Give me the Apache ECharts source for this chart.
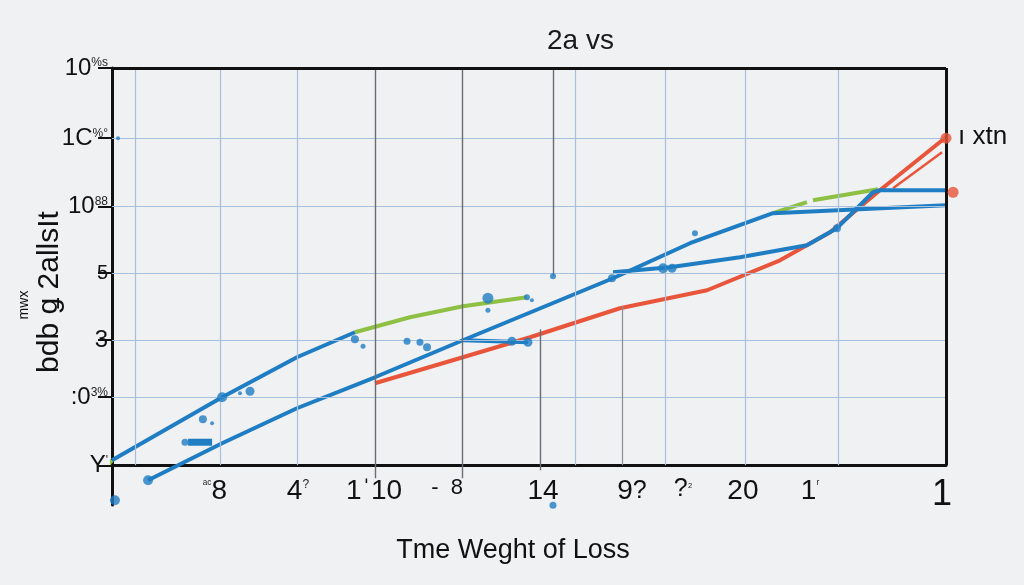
<!DOCTYPE html>
<html>
<head>
<meta charset="utf-8">
<script src="https://cdn.jsdelivr.net/npm/echarts@6/dist/echarts.min.js"></script>
<style>
html,body{margin:0;padding:0;background:#f0f1f3;}
#chart{width:1024px;height:585px;}
</style>
</head>
<body>
<div id="chart"></div>
<script>
// ---- Data ----
const titleText = '2a vs';
const xTitle = 'Tme Weght of Loss';
const sideLabel = 'ı xtn';
const yTitleMain = 'bdb ǥ 2allsIt';
const yTitleSmall = 'mwx';

const xLabelPos = [4.94, 8.92, 12.57, 16.07, 20.67, 24.94, 27.39, 30.26, 33.48, 39.81];
const xLabels = ['{s|ᵃᶜ}{a|8}', '{a|4}{s|?}', '{a|1ˈ10}', '{m|-  8}', '{a|14}', '{a|9}{b|?}', '{b|?}{s|₂}', '{a|20}', '{a|1}{s|ʳ}', '{c|1}'];

const yLabelPos = [0, 6.85, 12.59, 19.34, 26.08, 32.93, 40];
const yLabels = ['{a|Y}{s|\'}', '{a|:0}{s|3%}', '{a|3}', '{m|5}', '{a|10}{s|88}', '{a|1C}{s|%°}', '{a|10}{s|%s}'];

const hGrid = [6.85, 12.59, 19.34, 26.08, 32.93];
const vGridLight = [1.10, 5.18, 8.87, 22.21, 26.52, 30.36, 34.82];
const vGridDark = [12.61, 16.79];

const blueA = [[1.73,-1.51],[5.28,2.22],[8.87,5.74],[12.61,8.86],[16.83,12.59],[24.03,18.83],[27.72,22.36],[31.70,25.38],[40,26.18]];
const blueB = [[0,0.50],[5.28,6.85],[8.87,10.88],[11.65,13.39]];
const blueC = [[16.83,12.59],[19.95,12.39]];
const blueD = [[24.03,19.44],[26.76,19.94],[30.12,20.95],[33.33,22.16],[34.77,23.87],[36.50,27.49],[36.83,27.69],[40,27.69]];
const blueE = [[3.65,2.32],[4.80,2.32]];

const red1 = [[12.61,8.26],[16.83,10.88],[20.05,12.89],[24.36,15.81],[28.54,17.62],[32.04,20.64],[34.44,23.46],[36.83,27.69],[40,33.03]];
const red2 = [[37.46,27.90],[39.81,31.52]];
const redDots = [[40,32.93],[40.34,27.49]];

const green1 = [[-0.67,-1.01],[0,0.50]];
const green2 = [[11.65,13.39],[14.29,14.90],[16.83,16.01],[19.90,16.92]];
const green3 = [[31.70,25.38],[33.33,26.49]];
const green4 = [[33.62,26.69],[36.74,27.79]];

// [x, y, size]
const blueDots = [[0.29,32.93,4],[0.14,-3.52,10],[1.73,-1.51,10],[4.36,4.63,8],[4.80,4.23,4],[3.50,2.32,7],
  [5.28,6.85,10],[6.62,7.45,9],[6.14,7.25,4],[11.65,12.69,8],[12.04,11.98,5],[14.15,12.49,7],[14.77,12.39,7],
  [15.11,11.88,8],[18.03,16.82,11],[18.03,15.61,5],[19.90,16.92,6],[20.14,16.62,4],[21.15,19.03,6],
  [19.18,12.49,9],[19.95,12.39,9],[23.98,18.83,8],[26.43,19.84,10],[26.86,19.84,9],[27.96,23.36,6],
  [21.15,-4.03,7],[34.77,23.87,8]];

// ---- Chart ----
const BLUE = '#1f7dc3', RED = '#e8553a', GREEN = '#8ec043';
const FONT = 'Liberation Sans, Arial, sans-serif';
const chart = echarts.init(document.getElementById('chart'));

function nearestIdx(arr, v){let b=0;for(let i=1;i<arr.length;i++){if(Math.abs(arr[i]-v)<Math.abs(arr[b]-v))b=i;}return b;}

function lineSeries(data, color, width, z){
  return {type:'line', data:data, showSymbol:false, symbol:'none', clip:false, z:z||3,
    lineStyle:{color:color, width:width}, smooth:false, silent:true};
}

const LIGHT = {color:'#a7c0de', width:1.2};
const DARK = {color:'#6a6e74', width:1.4};
const gridLines = [];
hGrid.forEach(v=>gridLines.push({yAxis:v, lineStyle:LIGHT}));
vGridLight.forEach(v=>gridLines.push([{coord:[v,0], lineStyle:LIGHT},{coord:[v,40]}]));
vGridDark.forEach(v=>gridLines.push([{coord:[v,-1.3], lineStyle:DARK},{coord:[v,40]}]));
gridLines.push([{coord:[21.15,40], lineStyle:DARK},{coord:[21.15,19.03]}]);
gridLines.push([{coord:[20.53,13.69], lineStyle:DARK},{coord:[20.53,-0.5]}]);
gridLines.push([{coord:[24.46,16.01], lineStyle:{color:'#8a8e94', width:1.2}},{coord:[24.46,0]}]);
gridLines.push({yAxis:40, lineStyle:{color:'#111', width:3}});
gridLines.push([{coord:[40,0], lineStyle:{color:'#111', width:3}},{coord:[40,40]}]);

const option = {
  backgroundColor:'#f0f1f3',
  animation:false,
  textStyle:{fontFamily:FONT},
  grid:{left:112, right:78, top:68, bottom:80},
  xAxis:{type:'value', min:0, max:40, offset:-40,
    axisLine:{show:true, onZero:false, lineStyle:{color:'#111', width:3}},
    axisTick:{show:false}, splitLine:{show:false},
    axisLabel:{customValues:xLabelPos, margin:12, color:'#111',
      formatter:function(v){return xLabels[nearestIdx(xLabelPos, v)];},
      rich:{a:{fontSize:28, color:'#111', fontFamily:FONT},
            b:{fontSize:25, color:'#111', fontFamily:FONT},
            m:{fontSize:22, color:'#111', fontFamily:FONT},
            c:{fontSize:36, color:'#111', fontFamily:FONT},
            s:{fontSize:12, color:'#222', fontFamily:FONT, padding:[0,0,12,0]}}}},
  yAxis:{type:'value', min:-4, max:40,
    axisLine:{show:true, onZero:false, lineStyle:{color:'#111', width:3}},
    axisTick:{show:true, customValues:yLabelPos, length:14, lineStyle:{color:'#111', width:2}},
    splitLine:{show:false},
    axisLabel:{customValues:yLabelPos, margin:4, color:'#111',
      formatter:function(v){return yLabels[nearestIdx(yLabelPos, v)];},
      rich:{a:{fontSize:24, color:'#111', fontFamily:FONT},
            m:{fontSize:20, color:'#111', fontFamily:FONT},
            s:{fontSize:12, color:'#222', fontFamily:FONT, padding:[0,0,10,0]}}}},
  title:[
    {text:titleText, left:542, top:22, textStyle:{fontSize:28, fontWeight:'normal', color:'#1a1a1a', fontFamily:FONT}}
  ],
  graphic:[
    {type:'text', left:958, top:124, style:{text:sideLabel, fontSize:26, fill:'#111', fontFamily:FONT}},
    {type:'text', x:513, y:551, style:{text:xTitle, fontSize:27, fill:'#111', fontFamily:FONT, textAlign:'center', textVerticalAlign:'middle'}},
    {type:'text', x:50, y:292, rotation:Math.PI/2, style:{text:yTitleMain, fontSize:30, fill:'#111', fontFamily:FONT, textAlign:'center', textVerticalAlign:'middle'}},
    {type:'text', x:24, y:305, rotation:Math.PI/2, style:{text:yTitleSmall, fontSize:14, fill:'#111', fontFamily:FONT, textAlign:'center', textVerticalAlign:'middle'}}
  ],
  series:[
    {type:'line', data:[], z:1, silent:true,
      markLine:{silent:true, symbol:['none','none'], label:{show:false}, lineStyle:{type:'solid'}, data:gridLines}},
    lineSeries(green1, GREEN, 4),
    lineSeries(green2, GREEN, 4),
    lineSeries(green3, GREEN, 4),
    lineSeries(green4, GREEN, 4),
    lineSeries(red1, RED, 4),
    lineSeries(red2, RED, 2.5),
    lineSeries(blueA, BLUE, 4, 4),
    lineSeries(blueB, BLUE, 4, 4),
    lineSeries(blueC, BLUE, 4, 4),
    lineSeries(blueD, BLUE, 4, 4),
    lineSeries(blueE, BLUE, 7, 4),
    {type:'scatter', data:blueDots, clip:false, z:5, silent:true,
      symbolSize:function(d){return d[2];}, itemStyle:{color:BLUE}},
    {type:'scatter', data:redDots, clip:false, z:5, silent:true, symbolSize:11, itemStyle:{color:RED}}
  ]
};
chart.setOption(option);
</script>
</body>
</html>
